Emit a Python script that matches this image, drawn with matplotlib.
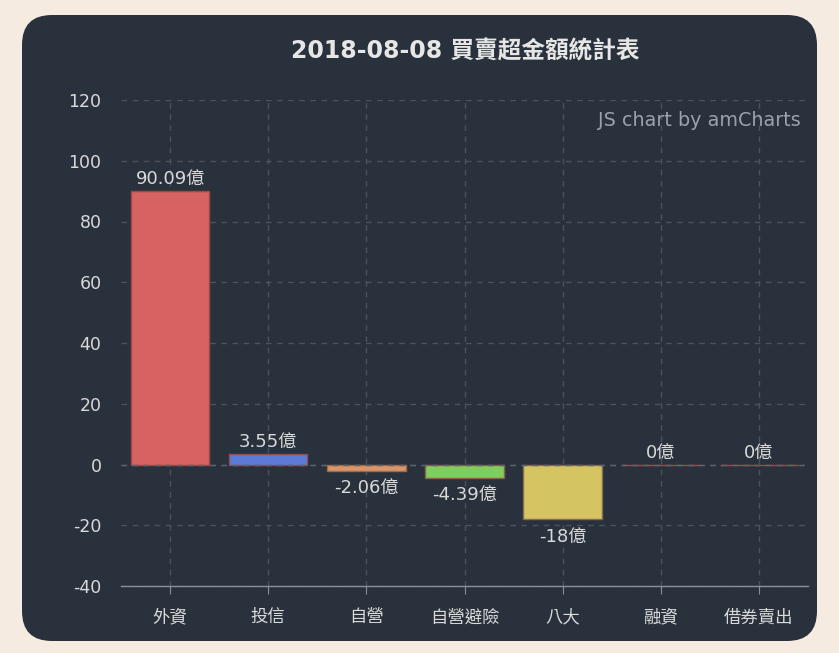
import matplotlib
matplotlib.use("Agg")
import matplotlib.pyplot as plt
from matplotlib.patches import FancyBboxPatch

plt.rcParams['font.family'] = ['DejaVu Sans', 'Noto Sans CJK TC']
plt.rcParams['axes.unicode_minus'] = False

categories = ["外資", "投信", "自營", "自營避險", "八大", "融資", "借券賣出"]
values = [90.09, 3.55, -2.06, -4.39, -18, 0, 0]
labels = ["90.09億", "3.55億", "-2.06億", "-4.39億", "-18億", "0億", "0億"]
colors = ["#d66262", "#5c7bd9", "#d9966a", "#80cc5f", "#d4c462", "#d66262", "#d66262"]
edges = ["#a04848", "#8a5050", "#a06a48", "#8a6048", "#8a6a48", "#a04848", "#a04848"]
yticks = [-40, -20, 0, 20, 40, 60, 80, 100, 120]
title = "2018-08-08 買賣超金額統計表"

W, H = 839, 653
fig = plt.figure(figsize=(W / 100, H / 100), dpi=100)
fig.patch.set_facecolor("#f6ebe1")

# background panel, drawn in pixel coords
bg = fig.add_axes([0, 0, 1, 1])
bg.set_xlim(0, W)
bg.set_ylim(H, 0)
bg.axis("off")
bg.add_patch(FancyBboxPatch((22 + 30, 15 + 30), 795 - 60, 626 - 60,
                            boxstyle="round,pad=30", fc="#29323c", ec="none"))

text_col = "#d9d9d9"
grid_col = "#4a535e"
axis_col = "#8a9097"

ax = fig.add_axes([121 / W, 1 - 586 / H, 687 / W, 486 / H])
ax.set_facecolor("none")
x = list(range(len(categories)))
ax.bar(x, values, width=0.8, color=colors, edgecolor=edges, linewidth=1, zorder=3)
ax.set_xlim(-0.5, len(categories) - 0.5)
ax.set_ylim(-40, 120)
ax.set_yticks(yticks)
ax.set_xticks(x)
ax.set_xticklabels(categories)
ax.tick_params(axis="y", length=0, pad=14, labelcolor=text_col, labelsize=12.5)
ax.tick_params(axis="x", length=6, color=axis_col, pad=10, labelcolor=text_col, labelsize=12.5)
ax.grid(True, color=grid_col, linestyle=(0, (4, 4)), linewidth=1, zorder=0)
ax.axhline(0, color="#5a636e", linestyle=(0, (4, 4)), linewidth=1, zorder=3.5)
for s in ["top", "right", "left"]:
    ax.spines[s].set_visible(False)
ax.spines["bottom"].set_color(axis_col)
ax.spines["bottom"].set_linewidth(1)

for xi, v, lab in zip(x, values, labels):
    if v >= 0:
        ax.annotate(lab, (xi, v), xytext=(0, 2), textcoords="offset points",
                    ha="center", va="bottom", color=text_col, fontsize=13, zorder=4)
    else:
        ax.annotate(lab, (xi, v), xytext=(0, -6), textcoords="offset points",
                    ha="center", va="top", color=text_col, fontsize=13, zorder=4)

ax.text(0.99, 0.957, "JS chart by amCharts", transform=ax.transAxes, ha="right",
        va="center", color="#9aa3ab", fontsize=13.8)

fig.text(465 / W, 1 - 51 / H, title, ha="center", va="center", color="#e6e6e6",
         fontsize=17, fontweight="bold")

fig.savefig("out.png", dpi=100, facecolor=fig.get_facecolor())
